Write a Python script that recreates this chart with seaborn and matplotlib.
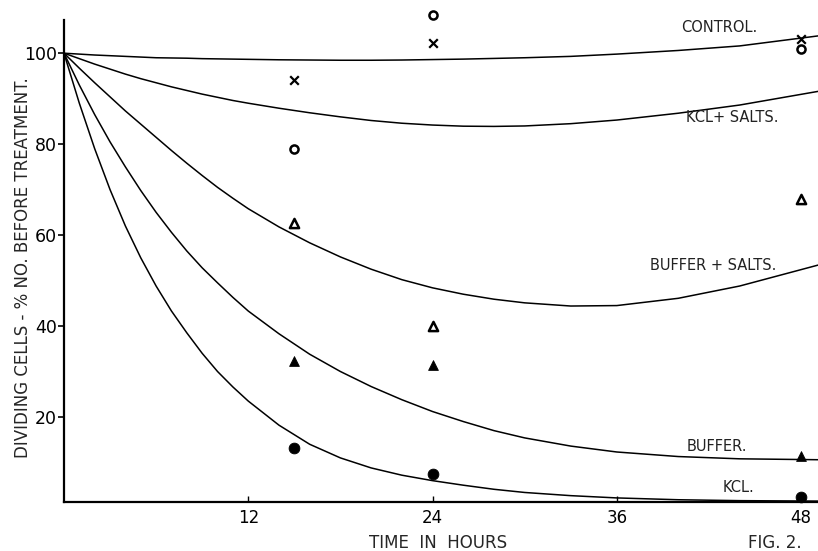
import numpy as np
import pandas as pd
import matplotlib
matplotlib.use("Agg")
import matplotlib.pyplot as plt
import seaborn as sns

# fitted curves (hours -> % of dividing cells)
hours = [0, 1, 2, 3, 4, 5, 6, 7, 8, 9, 10, 11, 12, 14, 16, 18, 20, 22, 24,
         26, 28, 30, 33, 36, 40, 44, 49.1]
control = [100, 99.8, 99.6, 99.45, 99.3, 99.15, 99.0, 98.95, 98.9, 98.8, 98.75,
           98.7, 98.65, 98.55, 98.5, 98.45, 98.45, 98.5, 98.6, 98.7, 98.85, 99.0,
           99.3, 99.8, 100.6, 101.6, 103.8]
kcl_salts = [100, 98.8, 97.6, 96.5, 95.4, 94.4, 93.5, 92.6, 91.8, 91.0, 90.3,
             89.6, 89.0, 87.9, 86.9, 86.0, 85.2, 84.6, 84.2, 83.95, 83.9, 84.0,
             84.5, 85.3, 86.8, 88.6, 91.6]
buffer_salts = [100, 96.7, 93.5, 90.4, 87.3, 84.4, 81.5, 78.6, 75.8, 73.1, 70.5,
                68.1, 65.8, 61.8, 58.3, 55.2, 52.5, 50.2, 48.4, 47.0, 45.9, 45.1,
                44.4, 44.5, 46.1, 48.8, 53.4]
buffer = [100, 93, 86.5, 80.5, 75, 69.8, 65, 60.6, 56.5, 52.8, 49.5, 46.3, 43.3,
          38.3, 33.8, 30.0, 26.7, 23.8, 21.2, 19.0, 17.0, 15.4, 13.6, 12.3, 11.3,
          10.8, 10.6]
kcl = [100, 89, 79, 70, 62, 55, 48.8, 43.3, 38.5, 34.0, 30.0, 26.6, 23.5, 18.2,
       14.0, 11.0, 8.8, 7.2, 6.0, 5.0, 4.1, 3.4, 2.7, 2.2, 1.8, 1.6, 1.5]

# observed points
pt_hours = [15, 24, 48]
control_pts = [94, 102.3, 103.2]
kcl_salts_pts = [79, 108.3, 101]
buffer_salts_pts = [62.6, 40, 68]
buffer_pts = [32.4, 31.4, 11.4]
kcl_pts = [13.1, 7.5, 2.4]

curve_names = ["CONTROL.", "KCL+ SALTS.", "BUFFER + SALTS.", "BUFFER.", "KCL."]
curve_vals = [control, kcl_salts, buffer_salts, buffer, kcl]

df = pd.concat([pd.DataFrame({"hours": hours, "pct": v, "curve": n})
                for n, v in zip(curve_names, curve_vals)], ignore_index=True)

sns.set_theme(style="ticks")
plt.rcParams["font.family"] = ["DejaVu Sans"]

fig = plt.figure(figsize=(8.18, 5.51), dpi=100)
ax = fig.add_axes([0.0782, 0.0889, 0.9218, 0.8748])

sns.lineplot(data=df, x="hours", y="pct", hue="curve",
             palette={n: "black" for n in curve_names}, legend=False,
             linewidth=1.1, estimator=None, sort=False, ax=ax)

sns.scatterplot(x=pt_hours, y=control_pts, marker="x", s=38, color="black",
                linewidth=1.6, ax=ax, clip_on=False)
sns.scatterplot(x=pt_hours, y=kcl_salts_pts, marker="o", s=34, facecolor="white",
                edgecolor="black", linewidth=1.8, ax=ax, clip_on=False)
sns.scatterplot(x=pt_hours, y=buffer_salts_pts, marker="^", s=44, facecolor="white",
                edgecolor="black", linewidth=1.8, ax=ax, clip_on=False)
sns.scatterplot(x=pt_hours, y=buffer_pts, marker="^", s=50, color="black",
                edgecolor="black", ax=ax, clip_on=False)
sns.scatterplot(x=pt_hours, y=kcl_pts, marker="o", s=60, color="black",
                edgecolor="black", ax=ax, clip_on=False)

ax.set_xlim(0, 49.1)
ax.set_ylim(1.3, 107.3)
ax.set_xticks([12, 24, 36, 48])
ax.set_yticks([20, 40, 60, 80, 100])
ax.tick_params(axis="x", direction="in", length=4, width=1, pad=5,
               labelsize=12, colors="black")
ax.tick_params(axis="y", direction="out", length=4, width=1.2, pad=1,
               labelsize=12.5, colors="black")
ax.set_xlabel("")
ax.set_ylabel("")
sns.despine(ax=ax)
for s in ["left", "bottom"]:
    ax.spines[s].set_linewidth(1.6)
    ax.spines[s].set_color("black")

# curve labels
label_pos = [(42.7, 105.7), (43.5, 85.9), (42.3, 53.4), (42.5, 13.4), (43.9, 4.4)]
for n, (lx, ly) in zip(curve_names, label_pos):
    ax.text(lx, ly, n, ha="center", va="center", fontsize=10.5, color="#222222")

fig.text(0.028, 0.515, "DIVIDING CELLS - % NO. BEFORE TREATMENT.", rotation=90,
         ha="center", va="center", fontsize=12)
fig.text(438 / 818, 1 - 543 / 551, "TIME  IN  HOURS", ha="center", va="center",
         fontsize=12)
fig.text(775 / 818, 1 - 543 / 551, "FIG. 2.", ha="center", va="center",
         fontsize=12)

fig.savefig("out.png", dpi=100, facecolor="white")
